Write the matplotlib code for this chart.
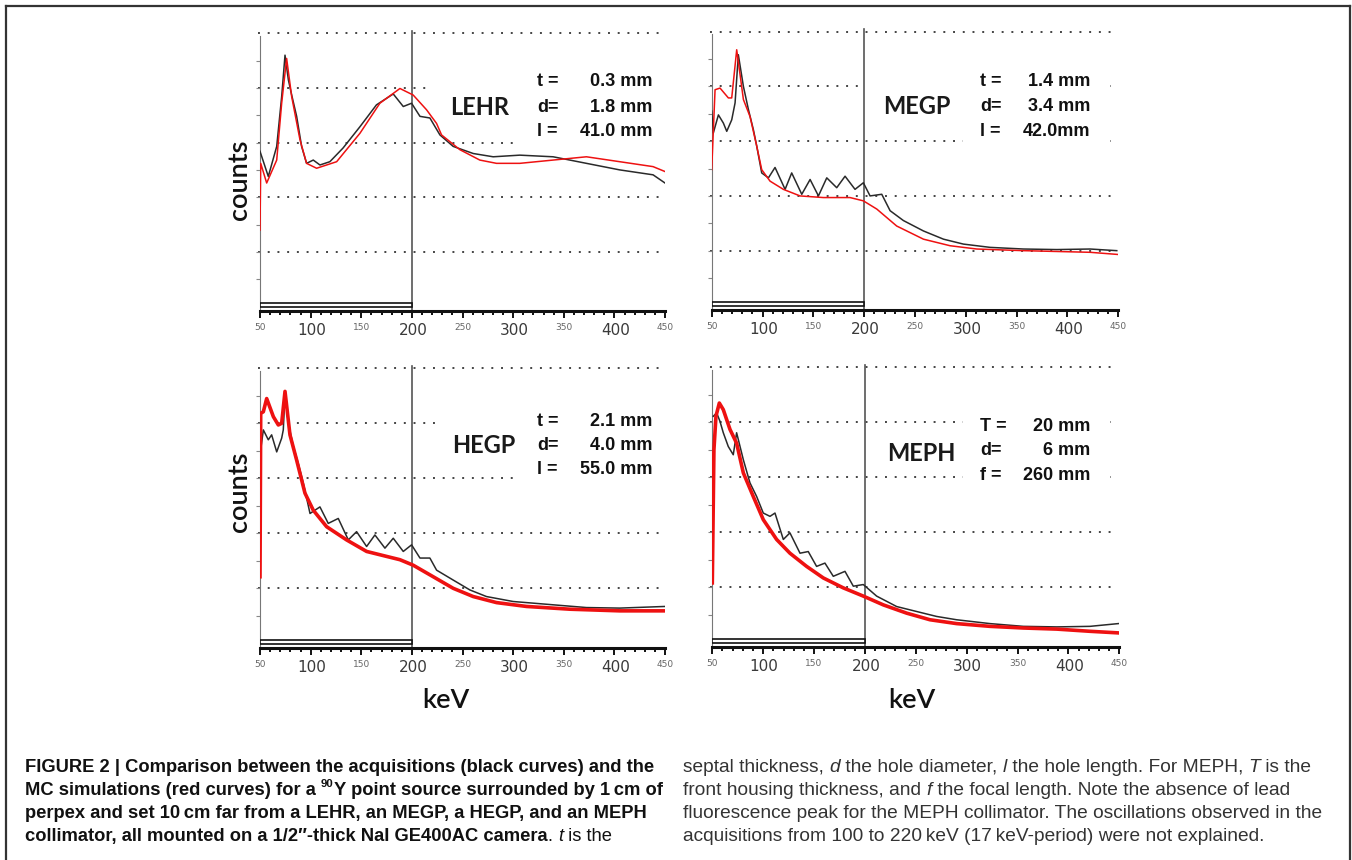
import numpy as np
import matplotlib
matplotlib.use('Agg')
import matplotlib.pyplot as plt
from matplotlib.patches import Rectangle
from matplotlib.lines import Line2D

# ---- data (x in keV, y in grid units 0..5) ----
lehr_kev_black = [50, 58.2, 66.5, 71.4, 74.7, 78, 81.3, 86.2, 91.1, 96, 102.6, 109.2, 119, 132, 148.7, 165,
                  181.6, 191.5, 199.7, 208, 217.8, 227.7, 240.8, 260.6, 280.3, 306.6, 339.5, 356, 372.4, 405.3, 438.2, 450]
lehr_black = [2.84, 2.38, 2.93, 3.84, 4.60, 4.15, 3.87, 3.48, 2.93, 2.62, 2.68, 2.59, 2.65, 2.90, 3.29, 3.69,
              3.89, 3.66, 3.72, 3.48, 3.45, 3.14, 2.93, 2.80, 2.74, 2.77, 2.74, 2.68, 2.62, 2.50, 2.41, 2.26]
lehr_kev_red = [50, 50.7, 56.6, 66.5, 71.4, 76.3, 81.3, 89.5, 96, 105.9, 125.7, 148.7, 168.4, 188.2, 201.3, 214.5,
                224.4, 229.3, 247.4, 267.1, 283.6, 306.6, 339.5, 372.4, 405.3, 438.2, 450]
lehr_red = [1.40, 2.62, 2.26, 2.68, 3.72, 4.54, 3.84, 3.05, 2.62, 2.53, 2.65, 3.17, 3.72, 3.99, 3.87, 3.60,
            3.35, 3.14, 2.87, 2.68, 2.62, 2.62, 2.68, 2.74, 2.65, 2.56, 2.47]

megp_kev_black = [50, 51.6, 56.6, 61.5, 64.8, 69.7, 73, 76.2, 81.2, 86.1, 91, 94.3, 99.2, 105.8, 112.3, 122.2,
                  128.7, 138.6, 146.8, 155, 163.2, 173, 181.2, 191, 199.2, 205.8, 217.3, 225.5, 238.6, 258.3,
                  278, 297.6, 323.9, 356.7, 389.5, 422.3, 448.5]
megp_black = [3.55, 3.15, 3.48, 3.33, 3.18, 3.39, 3.70, 4.58, 4.00, 3.58, 3.21, 2.91, 2.42, 2.33, 2.52, 2.12,
              2.42, 2.03, 2.30, 2.00, 2.33, 2.15, 2.36, 2.12, 2.24, 2.00, 2.03, 1.73, 1.55, 1.36,
              1.21, 1.12, 1.06, 1.03, 1.02, 1.03, 1.00]
megp_kev_red = [50, 53.3, 58.2, 66.4, 69.7, 74.6, 81.2, 87.7, 94.3, 99.2, 107.4, 120.5, 136.9, 159.9, 186.1,
                199.2, 212.4, 232, 258.3, 284.5, 310.8, 356.7, 422.3, 450]
megp_red = [2.48, 3.94, 3.97, 3.79, 3.79, 4.67, 3.76, 3.45, 2.91, 2.48, 2.27, 2.12, 2.00, 1.97, 1.97,
            1.91, 1.76, 1.45, 1.21, 1.09, 1.03, 1.00, 0.97, 0.93]

hegp_kev_black = [50.7, 53.3, 58.2, 61.5, 66.5, 71.4, 73, 74.7, 78, 82.9, 87.8, 92.8, 99.4, 109.2, 117.4, 127.3,
                  137.2, 145.4, 155.3, 163.5, 173.4, 181.6, 191.5, 199.7, 208, 217.8, 224.4, 240.8, 257.3,
                  273.7, 300, 339.5, 372.4, 405.3, 450]
hegp_black = [3.52, 3.88, 3.70, 3.79, 3.48, 3.73, 3.88, 4.55, 4.00, 3.58, 3.27, 2.91, 2.36, 2.48, 2.18, 2.27,
              1.88, 2.03, 1.76, 1.97, 1.73, 1.91, 1.67, 1.79, 1.55, 1.55, 1.33, 1.15, 0.97,
              0.85, 0.76, 0.70, 0.65, 0.64, 0.67]
hegp_kev_red = [50, 50.7, 53.3, 56.6, 63.2, 68.1, 71.4, 74.7, 79.6, 86.2, 94.4, 102.6, 115.8, 135.5, 155.3,
                175, 188.2, 201.3, 221.1, 240.8, 260.6, 283.6, 313.2, 356, 405.3, 450]
hegp_red = [1.21, 4.18, 4.21, 4.45, 4.12, 3.97, 4.00, 4.58, 3.79, 3.33, 2.73, 2.42, 2.12, 1.88, 1.67,
            1.58, 1.52, 1.42, 1.21, 1.00, 0.85, 0.74, 0.67, 0.62, 0.59, 0.59]

meph_kev_black = [51, 54.3, 57.5, 60.8, 65.7, 70.6, 73.9, 80.5, 87, 93.6, 100.1, 106.7, 111.6, 119.8, 126.3,
                  136.2, 144.3, 152.5, 160.7, 168.9, 180.4, 188.6, 198.4, 211.5, 231.2, 250.8, 270.5, 290.1,
                  322.9, 355.6, 388.4, 421.2, 449]
meph_black = [4.11, 4.17, 4.02, 3.81, 3.56, 3.41, 3.81, 3.32, 2.90, 2.65, 2.35, 2.29, 2.35, 1.87, 1.99,
              1.62, 1.65, 1.38, 1.44, 1.20, 1.29, 1.02, 1.05, 0.84, 0.65, 0.56, 0.47, 0.41,
              0.34, 0.29, 0.28, 0.29, 0.34]
meph_kev_red = [50, 51.6, 53.6, 56.9, 60.8, 67.4, 73.9, 80.5, 90.3, 100.1, 113.2, 126.3, 142.7, 159.1, 178.7,
                198.4, 218.1, 241, 263.9, 290.1, 322.9, 355.6, 388.4, 421.2, 450]
meph_red = [1.08, 3.50, 4.11, 4.35, 4.23, 3.87, 3.62, 3.08, 2.65, 2.23, 1.87, 1.62, 1.38, 1.17, 0.99,
            0.84, 0.68, 0.53, 0.41, 0.34, 0.29, 0.26, 0.24, 0.20, 0.17]

panel_names = ['LEHR', 'MEGP', 'HEGP', 'MEPH']
panel_params = [
    [('t =', '0.3 mm'), ('d=', '1.8 mm'), ('l =', '41.0 mm')],
    [('t =', '1.4 mm'), ('d=', '3.4 mm'), ('l =', '42.0mm')],
    [('t =', '2.1 mm'), ('d=', '4.0 mm'), ('l =', '55.0 mm')],
    [('T =', '20 mm'), ('d=', '6 mm'), ('f =', '260 mm')],
]
kev_ticks = [50, 100, 150, 200, 250, 300, 350, 400, 450]

W, H = 1352, 860
fig = plt.figure(figsize=(W / 100, H / 100), dpi=100)
renderer = fig.canvas.get_renderer()


def fx(px):
    return px / W


def fy(py):
    return 1 - py / H


# pixel geometry of each panel: x of 50 keV, x of 450 keV, y of level 0, y of level 5
geom = [
    (260.0, 665.0, 306.5, 33.3),
    (711.7, 1118.3, 305.4, 31.7),
    (260.0, 665.0, 643.3, 368.3),
    (712.3, 1119.3, 642.3, 367.3),
]
curves = [
    (lehr_kev_black, lehr_black, lehr_kev_red, lehr_red, 1.1),
    (megp_kev_black, megp_black, megp_kev_red, megp_red, 1.1),
    (hegp_kev_black, hegp_black, hegp_kev_red, hegp_red, 2.6),
    (meph_kev_black, meph_black, meph_kev_red, meph_red, 2.6),
]
# white boxes behind the labels (pixel coords: x0, x1, ytop, ybottom)
masks = [
    [(433, 668, 75, 133), (520, 668, 60, 150)],
    [(862, 1110, 75, 130), (963, 1110, 60, 150)],
    [(438, 668, 405, 445), (518, 668, 398, 482)],
    [(963, 1110, 398, 485)],
]
name_pos = [(480, 115), (917, 114), (484, 453), (921, 461)]
param_pos = [(537, 652, [86.5, 111.5, 136]),
             (980, 1090, [86.5, 111, 136]),
             (537, 652, [426, 450, 474]),
             (980, 1090, [431, 455, 480])]

YMIN, YMAX = -0.09, 5.2

for i in range(4):
    xa, xb, y0, y5 = geom[i]
    upx = (y0 - y5) / 5.0
    bot = y0 - YMIN * upx
    top = y0 - YMAX * upx
    ax = fig.add_axes([fx(xa), fy(bot), (xb - xa) / W, (bot - top) / H])
    ax.set_xlim(50, 450)
    ax.set_ylim(YMIN, YMAX)
    ax.patch.set_alpha(0)

    def to_data(px, py):
        return 50 + (px - xa) * 400 / (xb - xa), (y0 - py) / upx

    # dotted grid
    for g in range(1, 6):
        ax.plot([48, 447], [g, g], ls=(0, (1, 4)), color='#444444', lw=1.4, zorder=1, clip_on=False)
    for (x0, x1, yt, yb) in masks[i]:
        k0, u1 = to_data(x0, yt)
        k1, u0 = to_data(x1, yb)
        ax.add_patch(Rectangle((k0, u0), k1 - k0, u1 - u0, fc='white', ec='none', zorder=1.5, clip_on=False))

    ax.plot([200, 200], [YMIN, 5.05], color='#555555', lw=1.2, zorder=2)
    ax.add_patch(Rectangle((50, -0.005), 150, 0.065, fc='white', ec='#111111', lw=1.2, zorder=3))

    kb, yb_, kr, yr, lwr = curves[i]
    ax.plot(kb, yb_, color='#2a2a2a', lw=1.1, zorder=4)
    ax.plot(kr, yr, color='#ee1111', lw=lwr, zorder=5)

    for s in ['top', 'right']:
        ax.spines[s].set_visible(False)
    ax.spines['bottom'].set_linewidth(2.2)
    ax.spines['bottom'].set_color('#111111')
    ax.spines['left'].set_color('#777777')
    ax.spines['left'].set_bounds(YMIN, 4.95)
    ax.set_xticks(kev_ticks)
    ax.set_xticklabels([])
    ax.set_xticks(np.arange(50, 451, 10), minor=True)
    ax.set_yticks(np.arange(0.5, 5, 0.5))
    ax.set_yticklabels([])
    ax.tick_params(axis='x', which='major', length=5, width=1.4, color='#111111')
    ax.tick_params(axis='x', which='minor', length=3, width=1.4, color='#111111')
    ax.tick_params(axis='y', length=3, width=0.8, color='#888888')

    for v in kev_ticks:
        big = v % 100 == 0
        ax.annotate(str(v), (v, YMIN), xytext=(1 if big else 0, -12), textcoords='offset pixels',
                    ha='center', va='top', fontsize=11 if big else 6.5,
                    color='#3a3a3a' if big else '#666666', annotation_clip=False)

    fig.text(fx(name_pos[i][0]), fy(name_pos[i][1]), panel_names[i], ha='center', va='baseline',
             fontsize=17, family='Lato', weight='bold', color='#1a1a1a')
    left, right, ys = param_pos[i]
    for (lab, val), yy in zip(panel_params[i], ys):
        fig.text(fx(left), fy(yy), lab, ha='left', va='baseline', fontsize=13,
                 family=['Liberation Sans', 'DejaVu Sans'], weight='bold', color='#111111')
        fig.text(fx(right), fy(yy), val, ha='right', va='baseline', fontsize=13,
                 family=['Liberation Sans', 'DejaVu Sans'], weight='bold', color='#111111')

# axis titles
for yy in [180, 492]:
    fig.text(fx(240), fy(yy), 'counts', rotation=90, ha='center', va='center', fontsize=19.5,
             family='Lato', weight='semibold', color='#111111')
for xx in [446, 912]:
    fig.text(fx(xx), fy(700), 'keV', ha='center', va='center', fontsize=19.5, family='Lato',
             weight='semibold', color='#111111')

# outer frame (open at the bottom)
for xs, ys in [([6, 6], [860, 6]), ([6, 1350], [6, 6]), ([1350, 1350], [6, 860])]:
    fig.add_artist(Line2D([fx(x) for x in xs], [fy(y) for y in ys], color='#333333', lw=1.6))

# ---- caption ----
CAP_FONT = ['Liberation Sans', 'DejaVu Sans']
B = dict(weight='bold')
N = dict()
I = dict(style='italic')


def text_width(s, **kw):
    t = fig.text(0, 0, s + '|', **kw)
    w1 = t.get_window_extent(renderer).width
    t.set_text('|')
    w2 = t.get_window_extent(renderer).width
    t.remove()
    return w1 - w2


def run_props(kw, size, color):
    kw = dict(kw)
    sup = kw.pop('sup', False)
    props = dict(fontsize=size * 0.62 if sup else size, color=color, family=CAP_FONT, **kw)
    return props, (size * 0.45 * 100 / 72 if sup else 0)


def runs_width(runs, size):
    return sum(text_width(s, **run_props(kw, size, 'k')[0]) for s, kw in runs)


def draw_runs(x, y, runs, size, color):
    for s, kw in runs:
        props, dy = run_props(kw, size, color)
        fig.text(fx(x), fy(y - dy), s, ha='left', va='baseline', **props)
        x += text_width(s, **props)


cap_left = [
    [("FIGURE 2 | Comparison between the acquisitions (black curves) and the", B)],
    [("MC simulations (red curves) for a ", B), ("90", dict(weight='bold', sup=True)),
     ("Y point source surrounded by 1\u2009cm of", B)],
    [("perpex and set 10\u2009cm far from a LEHR, an MEGP, a HEGP, and an MEPH", B)],
    [("collimator, all mounted on a 1/2\u2033-thick NaI GE400AC camera", B), (". ", N), ("t", I), (" is the", N)],
]
cap_right = [
    [("septal thickness, ", N), ("d", I), (" the hole diameter, ", N), ("l", I),
     (" the hole length. For MEPH, ", N), ("T", I), (" is the", N)],
    [("front housing thickness, and ", N), ("f", I), (" the focal length. Note the absence of lead", N)],
    [("fluorescence peak for the MEPH collimator. The oscillations observed in the", N)],
    [("acquisitions from 100 to 220\u2009keV (17\u2009keV-period) were not explained.", N)],
]
baselines = [771.5, 794.8, 818, 841.3]

size_l = 11 * 632 / runs_width(cap_left[0], 11)
size_r = 11 * 627 / runs_width(cap_right[0], 11)
for runs, yy in zip(cap_left, baselines):
    draw_runs(25, yy, runs, size_l, '#111111')
for runs, yy in zip(cap_right, baselines):
    draw_runs(683, yy, runs, size_r, '#333333')

fig.savefig('out.png', dpi=100)
